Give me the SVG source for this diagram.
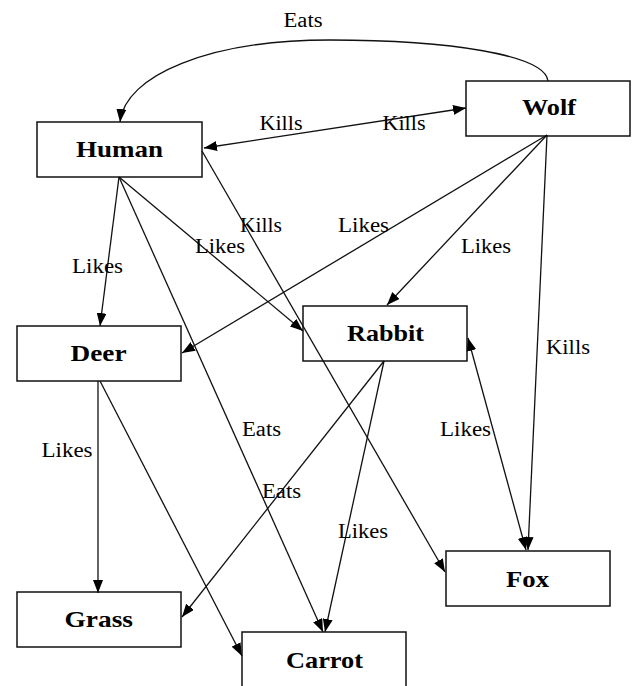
<svg xmlns="http://www.w3.org/2000/svg" width="632" height="686" viewBox="0 0 632 686">
  <defs>
    <marker id="ah" viewBox="0 0 13 10" refX="13" refY="5" markerWidth="13" markerHeight="10" markerUnits="userSpaceOnUse" orient="auto-start-reverse">
      <path d="M0,0 L13,5 L0,10 z" fill="#000"/>
    </marker>
    <style>
      .box { fill: none; stroke: #111; stroke-width: 1.5; }
      .name { font-family: "Liberation Serif", "Times New Roman", serif; font-weight: bold; font-size: 24px; fill: #000; }
      .edge { fill: none; stroke: #111; stroke-width: 1.3; marker-end: url(#ah); }
      .both { marker-start: url(#ah); }
      .lbl { font-family: "Liberation Serif", "Times New Roman", serif; font-size: 20px; fill: #000; }
    </style>
  </defs>
  <rect width="632" height="686" fill="#fff"/>

  <!-- connectors -->
  <g id="connectors">
    <path class="edge" d="M548,81 C545,55 450,40 330,40 C210,40 125,75 120,122"/>
    <line class="edge both" x1="204" y1="148" x2="466" y2="108"/>
    <line class="edge" x1="119" y1="177" x2="100" y2="326"/>
    <line class="edge" x1="119" y1="177" x2="303" y2="331"/>
    <line class="edge" x1="119" y1="177" x2="323" y2="632"/>
    <line class="edge" x1="202" y1="151" x2="445" y2="572"/>
    <line class="edge" x1="547" y1="135" x2="182" y2="353"/>
    <line class="edge" x1="547" y1="135" x2="387" y2="305"/>
    <line class="edge" x1="547" y1="135" x2="528" y2="550"/>
    <line class="edge" x1="98" y1="381" x2="98" y2="593"/>
    <line class="edge" x1="100" y1="381" x2="242" y2="656"/>
    <line class="edge" x1="384" y1="361" x2="325" y2="632"/>
    <line class="edge" x1="384" y1="361" x2="182" y2="617"/>
    <line class="edge both" x1="468" y1="338" x2="526" y2="550"/>

    <g class="lbl">
      <text x="283.5" y="27" textLength="39" lengthAdjust="spacingAndGlyphs">Eats</text>
      <text x="259.5" y="130" textLength="43" lengthAdjust="spacingAndGlyphs">Kills</text>
      <text x="382.5" y="130" textLength="43" lengthAdjust="spacingAndGlyphs">Kills</text>
      <text x="240" y="232" textLength="42" lengthAdjust="spacingAndGlyphs">Kills</text>
      <text x="338" y="232" textLength="51" lengthAdjust="spacingAndGlyphs">Likes</text>
      <text x="195" y="253" textLength="50" lengthAdjust="spacingAndGlyphs">Likes</text>
      <text x="461" y="253" textLength="50" lengthAdjust="spacingAndGlyphs">Likes</text>
      <text x="72" y="273" textLength="51" lengthAdjust="spacingAndGlyphs">Likes</text>
      <text x="546" y="354" textLength="44" lengthAdjust="spacingAndGlyphs">Kills</text>
      <text x="242" y="436" textLength="39" lengthAdjust="spacingAndGlyphs">Eats</text>
      <text x="440" y="436" textLength="51" lengthAdjust="spacingAndGlyphs">Likes</text>
      <text x="41.5" y="457" textLength="51" lengthAdjust="spacingAndGlyphs">Likes</text>
      <text x="262" y="498" textLength="39" lengthAdjust="spacingAndGlyphs">Eats</text>
      <text x="338" y="538" textLength="50" lengthAdjust="spacingAndGlyphs">Likes</text>
    </g>
  </g>

  <!-- nodes -->
  <g id="human">
    <rect class="box" x="37" y="122" width="165" height="55"/>
    <text class="name" x="76" y="157" textLength="87" lengthAdjust="spacingAndGlyphs">Human</text>
  </g>
  <g id="wolf">
    <rect class="box" x="466" y="81" width="164" height="55"/>
    <text class="name" x="522" y="115" textLength="54" lengthAdjust="spacingAndGlyphs">Wolf</text>
  </g>
  <g id="deer">
    <rect class="box" x="17" y="326" width="164" height="55"/>
    <text class="name" x="70.5" y="361" textLength="56" lengthAdjust="spacingAndGlyphs">Deer</text>
  </g>
  <g id="rabbit">
    <rect class="box" x="303" y="306" width="164" height="55"/>
    <text class="name" x="347" y="341" textLength="77" lengthAdjust="spacingAndGlyphs">Rabbit</text>
  </g>
  <g id="grass">
    <rect class="box" x="17" y="592" width="164" height="55"/>
    <text class="name" x="64.5" y="627" textLength="68.5" lengthAdjust="spacingAndGlyphs">Grass</text>
  </g>
  <g id="carrot">
    <rect class="box" x="242" y="632" width="164" height="70"/>
    <text class="name" x="286" y="668" textLength="77" lengthAdjust="spacingAndGlyphs">Carrot</text>
  </g>
  <g id="fox">
    <rect class="box" x="446" y="551" width="164" height="55"/>
    <text class="name" x="506" y="587" textLength="43" lengthAdjust="spacingAndGlyphs">Fox</text>
  </g>
</svg>
